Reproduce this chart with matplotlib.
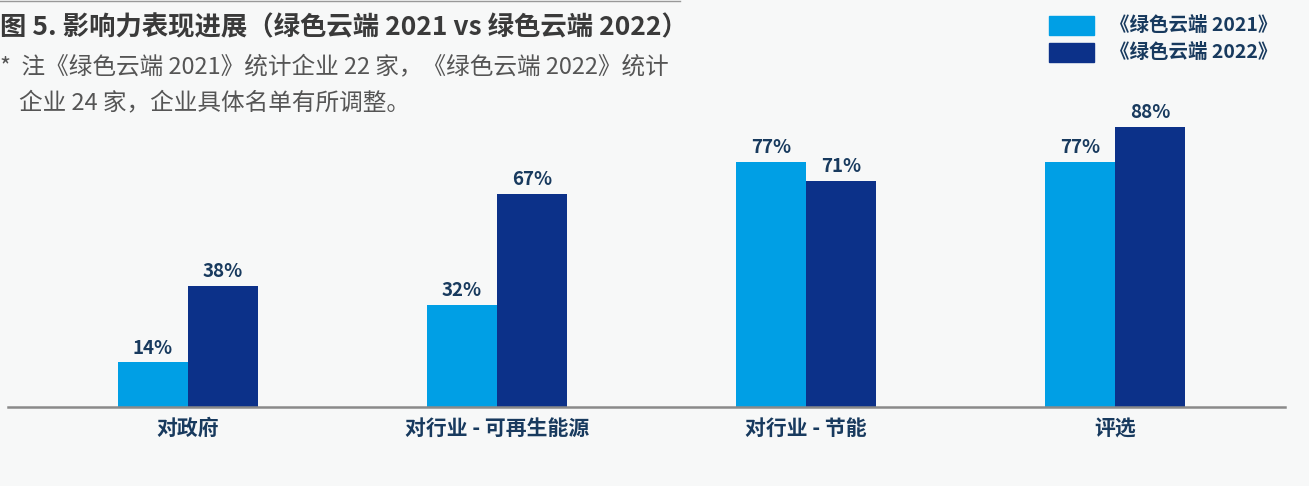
import matplotlib.pyplot as plt
import numpy as np

plt.rcParams['font.family'] = ['Noto Sans CJK SC', 'DejaVu Sans']

categories = ["对政府", "对行业 - 可再生能源", "对行业 - 节能", "评选"]
v2021 = [14, 32, 77, 77]
v2022 = [38, 67, 71, 88]
series_names = ["《绿色云端 2021》", "《绿色云端 2022》"]

light = "#009FE5"
dark = "#0C3189"
navy = "#183A5E"
bg = "#F7F8F8"

W, H = 1309, 486
fig = plt.figure(figsize=(W / 100, H / 100), dpi=100, facecolor=bg)
# axes in pixel coords: left 8, right 1285, bottom 407, top 89
ax = fig.add_axes([8 / W, 1 - 407 / H, (1285 - 8) / W, (407 - 89) / H])
ax.set_facecolor(bg)

x = np.arange(len(categories))
w = 70 / 309
ax.bar(x - w / 2, v2021, width=w, color=light)
ax.bar(x + w / 2, v2022, width=w, color=dark)

for xi, a, b in zip(x, v2021, v2022):
    ax.text(xi - w / 2, a + 1.5, f"{a}%", ha="center", va="bottom",
            fontsize=13.5, fontweight="bold", color=navy)
    ax.text(xi + w / 2, b + 1.5, f"{b}%", ha="center", va="bottom",
            fontsize=13.5, fontweight="bold", color=navy)

ax.set_xlim((8 - 188) / 309, (1285 - 188) / 309)
ax.set_ylim(0, 100)
ax.set_xticks(x)
ax.set_xticklabels(categories, fontsize=15, fontweight="bold", color=navy)
ax.tick_params(axis="x", length=0, pad=8)
ax.set_yticks([])
for s in ["top", "right", "left"]:
    ax.spines[s].set_visible(False)
ax.spines["bottom"].set_color("#8A8A8A")
ax.spines["bottom"].set_linewidth(1.8)

# title and note
fig.add_artist(plt.Line2D([0, 680 / W], [1 - 1.5 / H, 1 - 1.5 / H], color="#999999", lw=1))
fig.text(0 / W, 1 - 28 / H, "图 5. 影响力表现进展（绿色云端 2021 vs 绿色云端 2022）",
         fontsize=19, fontweight="bold", color="#3A3A3A", va="center", ha="left")
fig.text(0 / W, 1 - 67 / H, "*  注《绿色云端 2021》统计企业 22 家，《绿色云端 2022》统计",
         fontsize=17, fontweight="light", color="#555555", va="center", ha="left")
fig.text(19 / W, 1 - 103 / H, "企业 24 家，企业具体名单有所调整。",
         fontsize=17, fontweight="light", color="#555555", va="center", ha="left")

# legend
for i, (name, col) in enumerate(zip(series_names, [light, dark])):
    y0 = 16 + i * 27
    fig.add_artist(plt.Rectangle((1049 / W, 1 - (y0 + 19) / H), 45 / W, 19 / H,
                                 color=col, transform=fig.transFigure))
    fig.text(1110 / W, 1 - (y0 + 9.5) / H, name, fontsize=14, fontweight="bold",
             color=navy, va="center", ha="left")

fig.savefig("out.png", dpi=100, facecolor=bg)
